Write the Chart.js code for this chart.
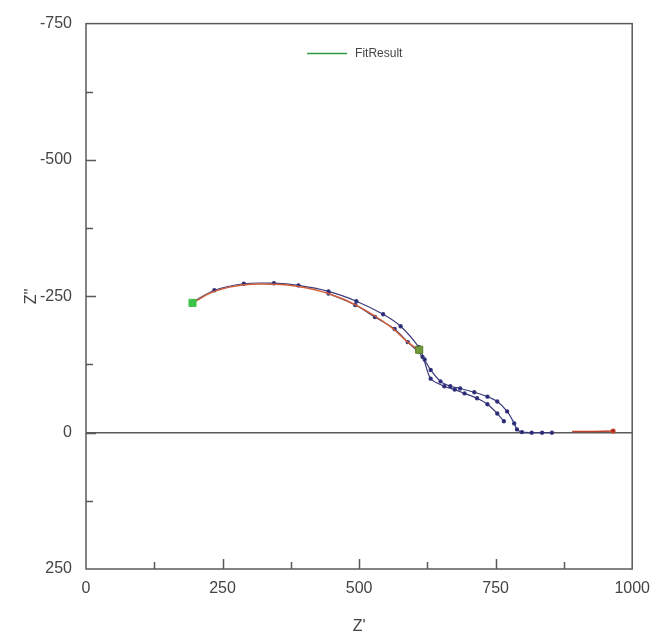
<!DOCTYPE html>
<html>
<head>
<meta charset="utf-8">
<script src="https://cdn.jsdelivr.net/npm/chart.js@4.4.1/dist/chart.umd.min.js"></script>
<style>
  html, body { margin: 0; padding: 0; background: #fff; }
  #wrap { width: 660px; height: 636px; }
</style>
</head>
<body>
<div id="wrap"><canvas id="myChart" width="660" height="636"></canvas></div>
<script>
// measured data, outer branch (Z', Z'')
const outerX = [195, 235, 289, 344, 389, 444, 495, 544, 576, 609, 620, 631, 649, 667, 685, 711, 735, 753, 771, 784, 789, 798, 816, 835, 853];
const outerY = [-239, -261, -273, -274, -270, -259, -241, -217, -195, -157, -134, -115, -94, -85, -81, -74, -66, -57, -39, -17, -6, -1, 0, 0, 0];

// measured data, inner branch
const innerX = [444, 493, 529, 565, 589, 616, 631, 656, 675, 693, 716, 735, 753, 765];
const innerY = [-255, -234, -212, -190, -166, -139, -99, -85, -79, -72, -63, -52, -35, -21];

// fit curve
const fitX = [195, 235, 289, 344, 389, 444, 498, 558, 589, 609];
const fitY = [-238, -259, -271, -272, -268, -255, -232, -194, -166, -152];

// low frequency tail
const tailX = [890, 930, 965];
const tailY = [-2, -2, -3];

// FitResult markers
const markX = [195, 610];
const markY = [-238, -152];

const xTicks = [0, 250, 500, 750, 1000];
const yTicks = [-750, -500, -250, 0, 250];

function pts(xs, ys) {
    return xs.map((x, i) => ({ x: x, y: ys[i] }));
}

// frame, inward tick marks and the small legend
const framePlugin = {
    id: 'frame',
    afterDraw(chart) {
        const ctx = chart.ctx;
        const a = chart.chartArea;
        const sx = chart.scales.x;
        const sy = chart.scales.y;
        ctx.save();
        ctx.strokeStyle = '#5a5a5a';
        ctx.lineWidth = 1.5;
        ctx.strokeRect(a.left, a.top, a.right - a.left, a.bottom - a.top);
        ctx.beginPath();
        sx.ticks.forEach((t) => {
            if (t.value <= 0 || t.value >= 1000) return;
            const px = Math.round(sx.getPixelForValue(t.value)) + 0.5;
            const len = t.value % 250 === 0 ? 10 : 7;
            ctx.moveTo(px, a.bottom);
            ctx.lineTo(px, a.bottom - len);
        });
        sy.ticks.forEach((t) => {
            if (t.value <= -750 || t.value >= 250) return;
            const py = Math.round(sy.getPixelForValue(t.value)) + 0.5;
            const len = t.value % 250 === 0 ? 10 : 7;
            ctx.moveTo(a.left, py);
            ctx.lineTo(a.left + len, py);
        });
        ctx.stroke();

        // legend
        const lx = (a.left + a.right) / 2 - 52;
        const ly = a.top + 30;
        ctx.strokeStyle = '#2e9a3e';
        ctx.lineWidth = 1.5;
        ctx.beginPath();
        ctx.moveTo(lx, ly);
        ctx.lineTo(lx + 40, ly);
        ctx.stroke();
        ctx.fillStyle = '#444';
        ctx.font = "12px 'Liberation Sans', Arial, sans-serif";
        ctx.textBaseline = 'middle';
        ctx.fillText('FitResult', lx + 48, ly);
        ctx.restore();
    }
};

const font = { family: "'Liberation Sans', Arial, sans-serif", size: 16 };

var ctx = document.getElementById('myChart');
const myChart = new Chart(ctx, {
    type: 'scatter',
    data: {
        datasets: [
            {
                label: 'FitResult',
                data: pts(markX, markY),
                showLine: false,
                pointStyle: 'rect',
                pointRadius: 5,
                backgroundColor: ['#3fc24a', '#6f9a3a'],
                borderColor: ['#3fc24a', '#5a7a2a'],
                borderWidth: 1,
                order: 0
            },
            {
                label: 'fit',
                data: pts(fitX, fitY),
                showLine: true,
                borderColor: '#d2603a',
                borderWidth: 1.5,
                pointRadius: 0,
                tension: 0.4,
                order: 1
            },
            {
                label: 'outer',
                data: pts(outerX, outerY),
                showLine: true,
                borderColor: '#3a3a7a',
                backgroundColor: '#1e1e80',
                borderWidth: 1.2,
                pointRadius: 1.6,
                tension: 0.3,
                order: 2
            },
            {
                label: 'inner',
                data: pts(innerX, innerY),
                showLine: true,
                borderColor: '#3a3a7a',
                backgroundColor: '#1e1e80',
                borderWidth: 1.2,
                pointRadius: 1.6,
                tension: 0.3,
                order: 2
            },
            {
                label: 'tail',
                data: pts(tailX, tailY),
                showLine: true,
                borderColor: '#c0402a',
                backgroundColor: '#a02020',
                borderWidth: 1.5,
                pointRadius: [0, 0, 1.8],
                order: 1
            }
        ]
    },
    options: {
        responsive: false,
        animation: false,
        layout: {
            padding: { top: 12, left: 22, right: 25, bottom: 0 }
        },
        plugins: {
            tooltip: { enabled: false },
            legend: { display: false }
        },
        scales: {
            x: {
                type: 'linear',
                min: 0,
                max: 1000,
                afterFit: (s) => { s.height = 67; },
                afterBuildTicks: (s) => {
                    s.ticks = [];
                    for (let v = 0; v <= 1000; v += 125) s.ticks.push({ value: v });
                },
                ticks: {
                    padding: 10,
                    font: font,
                    color: '#444',
                    maxRotation: 0,
                    autoSkip: false,
                    callback: (v) => xTicks.includes(v) ? String(v) : ''
                },
                grid: { display: false, drawTicks: false },
                border: { display: false },
                title: {
                    display: true,
                    text: "Z'",
                    font: font,
                    color: '#444',
                    padding: { top: 6, bottom: 0 }
                }
            },
            y: {
                type: 'linear',
                min: -750,
                max: 250,
                reverse: true,
                afterFit: (s) => { s.width = 64; },
                afterBuildTicks: (s) => {
                    s.ticks = [];
                    for (let v = -750; v <= 250; v += 125) s.ticks.push({ value: v });
                },
                ticks: {
                    padding: 14,
                    font: font,
                    color: '#444',
                    autoSkip: false,
                    callback: (v) => yTicks.includes(v) ? String(v) : ''
                },
                grid: {
                    drawTicks: false,
                    lineWidth: 1.5,
                    color: (c) => c.tick && c.tick.value === 0 ? '#5a5a5a' : 'rgba(0,0,0,0)'
                },
                border: { display: false },
                title: {
                    display: true,
                    text: "Z''",
                    font: font,
                    color: '#444',
                    padding: { top: 0, bottom: 4 }
                }
            }
        }
    },
    plugins: [framePlugin]
});
</script>
</body>
</html>
